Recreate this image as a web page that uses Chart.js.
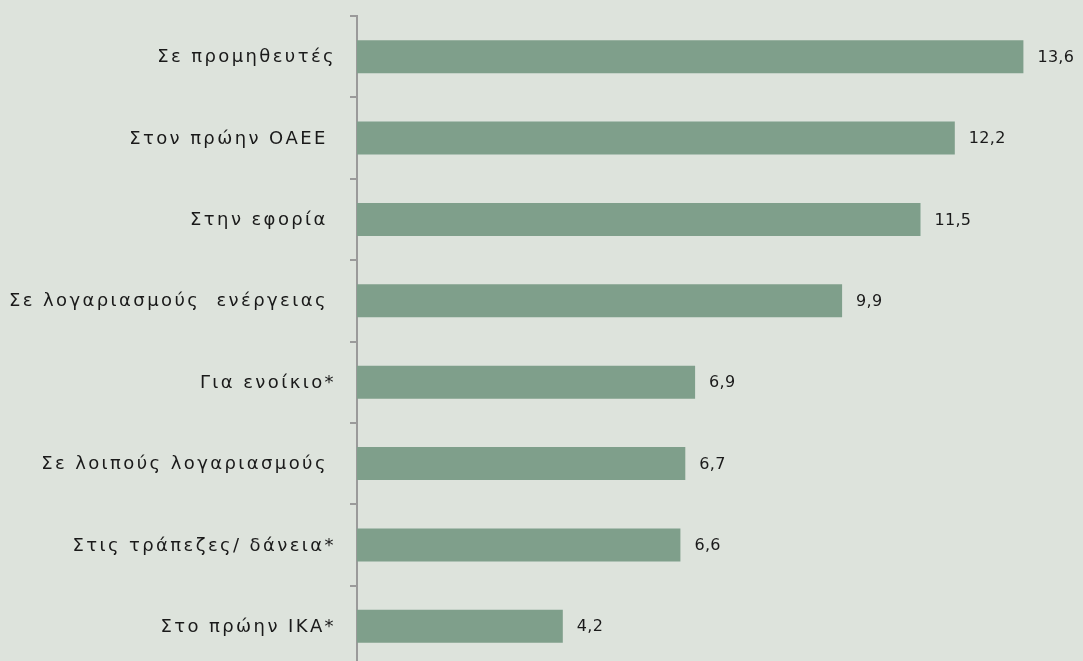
<!DOCTYPE html>
<html lang="el">
<head>
<meta charset="UTF-8">
<title>Οφειλές</title>
<script src="https://cdn.jsdelivr.net/npm/chart.js"></script>
<style>
  html, body {
    margin: 0;
    padding: 0;
    background: #dde3dc;
    overflow: hidden;
  }
  .wrap {
    width: 1083px;
    height: 680px;
    position: relative;
  }
</style>
</head>
<body>
<div class="wrap"><canvas id="chart"></canvas></div>
<script>
const categories = [
  'Σε προμηθευτές',
  'Στον πρώην ΟΑΕΕ ',
  'Στην εφορία ',
  'Σε λογαριασμούς  ενέργειας ',
  'Για ενοίκιο*',
  'Σε λοιπούς λογαριασμούς ',
  'Στις τράπεζες/ δάνεια*',
  'Στο πρώην ΙΚΑ*'
];
const values = [13.6, 12.2, 11.5, 9.9, 6.9, 6.7, 6.6, 4.2];

const FONT = "'DejaVu Sans', sans-serif";
const TEXT = '#1a1a1a';

// category names (spaced out a bit) and values next to the bars
const labelsPlugin = {
  id: 'labelsPlugin',
  afterDatasetsDraw(chart) {
    const ctx = chart.ctx;
    const meta = chart.getDatasetMeta(0);
    const yScale = chart.scales.y;
    ctx.save();
    ctx.fillStyle = TEXT;
    ctx.textBaseline = 'middle';

    ctx.font = '18px ' + FONT;
    ctx.letterSpacing = '2.4px';
    ctx.textAlign = 'right';
    categories.forEach((c, i) => {
      ctx.fillText(c, yScale.right - 21, yScale.getPixelForValue(i) + 1);
    });

    ctx.font = '16px ' + FONT;
    ctx.letterSpacing = '0.3px';
    ctx.textAlign = 'left';
    meta.data.forEach((bar, i) => {
      const txt = values[i].toFixed(1).replace('.', ',');
      ctx.fillText(txt, bar.x + 14, bar.y + 1);
    });
    ctx.restore();
  }
};

new Chart(document.getElementById('chart'), {
  type: 'bar',
  data: {
    labels: categories,
    datasets: [{
      data: values,
      backgroundColor: '#7f9f8b',
      borderWidth: 0,
      categoryPercentage: 1,
      barPercentage: 0.405
    }]
  },
  options: {
    indexAxis: 'y',
    responsive: true,
    maintainAspectRatio: false,
    animation: false,
    layout: { padding: { top: 16, bottom: 13, left: 0, right: 40 } },
    plugins: {
      legend: { display: false },
      tooltip: { enabled: false }
    },
    scales: {
      x: {
        display: false,
        min: 0,
        max: 14
      },
      y: {
        afterFit(scale) { scale.width = 357; },
        border: { color: '#9a9a9a', width: 2 },
        grid: {
          offset: true,
          drawOnChartArea: false,
          color: '#9a9a9a',
          lineWidth: 2,
          tickLength: 7
        },
        ticks: {
          padding: 0,
          font: { size: 1, family: FONT },
          callback: () => ''
        }
      }
    }
  },
  plugins: [labelsPlugin]
});
</script>
</body>
</html>
